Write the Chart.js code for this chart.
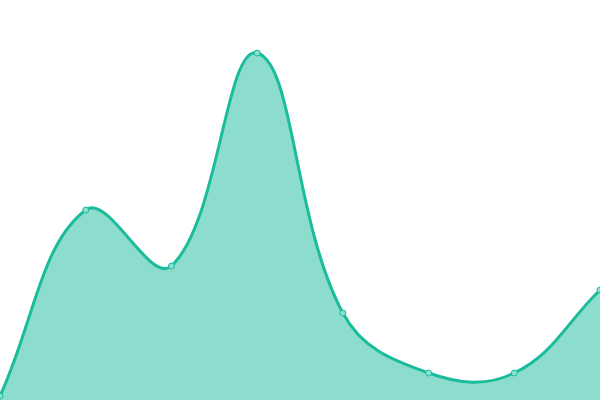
<!DOCTYPE html>
<html>
<head>
<meta charset="utf-8">
<script src="https://cdn.jsdelivr.net/npm/chart.js@4"></script>
<style>
html,body{margin:0;padding:0;background:#fff;}
#wrap{width:600px;height:400px;}
</style>
</head>
<body>
<div id="wrap"><canvas id="c" width="600" height="400"></canvas></div>
<script>
const labels = ["1", "2", "3", "4", "5", "6", "7", "8"];
const values = [1, 47.5, 33.5, 86.75, 21.75, 6.75, 6.75, 27.5];
const yMin = 0;
const yMax = 100;

new Chart(document.getElementById('c'), {
  type: 'line',
  data: {
    labels: labels,
    datasets: [{
      data: values,
      fill: 'start',
      backgroundColor: 'rgba(26,188,156,0.5)',
      borderColor: '#1abc9c',
      borderWidth: 3,
      tension: 0.4,
      pointRadius: 3,
      pointBackgroundColor: '#8ce0cf',
      pointBorderColor: '#1abc9c',
      pointBorderWidth: 1
    }]
  },
  options: {
    responsive: false,
    animation: false,
    devicePixelRatio: 1,
    layout: { padding: 0, autoPadding: false },
    plugins: { legend: { display: false }, tooltip: { enabled: false } },
    scales: {
      x: { display: false },
      y: { display: false, min: yMin, max: yMax }
    }
  }
});
</script>
</body>
</html>
